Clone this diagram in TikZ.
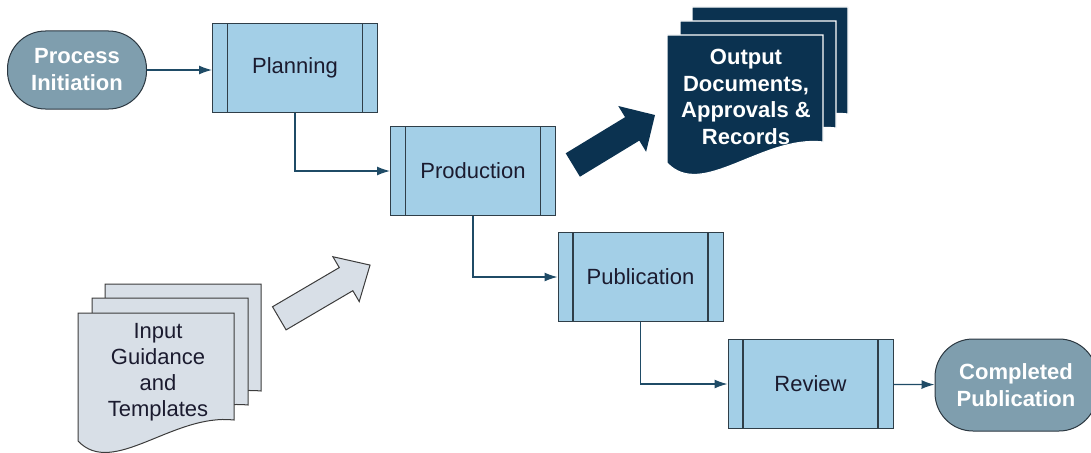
\documentclass[tikz,border=0pt]{standalone}
\usepackage{fontspec}
\setmainfont{Liberation Sans}
\usepackage{xcolor}
\usepackage{tikz}
\usetikzlibrary{arrows.meta}

\definecolor{boxfill}{HTML}{A3CFE7}
\definecolor{boxedge}{HTML}{2F3E48}
\definecolor{boxtext}{HTML}{1B1B2F}
\definecolor{termfill}{HTML}{7F9EAE}
\definecolor{termedge}{HTML}{2B3740}
\definecolor{navy}{HTML}{0B3250}
\definecolor{sheetgrey}{HTML}{D8DFE7}
\definecolor{sheetedge}{HTML}{3C3C3C}
\definecolor{linkblue}{HTML}{1F4B66}

\begin{document}
\begin{tikzpicture}[x=1pt,y=-1pt,>={Latex[length=13pt,width=9pt]},
every node/.style={font=\fontsize{22}{27}\selectfont,align=center},
procbox/.style={draw=boxedge,fill=boxfill,line width=1pt,minimum width=165pt,minimum height=89pt,text=boxtext,
path picture={\draw[boxedge,line width=1.2pt]
([xshift=15pt]path picture bounding box.north west)--([xshift=15pt]path picture bounding box.south west)
([xshift=-15pt]path picture bounding box.north east)--([xshift=-15pt]path picture bounding box.south east);}},
termbox/.style={draw=termedge,fill=termfill,line width=1pt,rounded corners=38pt,text=white,
font=\fontsize{22}{27}\selectfont\bfseries},
link/.style={->,draw=linkblue,line width=1.3pt},
docsheet/.pic={\path[pic actions](0,0)--(156,0)--(156,107)
.. controls (95,100) and (35,165) .. (0,128)--cycle;}]
\useasboundingbox(0,0)rectangle(1091,452);

\node[termbox,minimum width=139pt,minimum height=78pt](start)at(77,70){Process\\Initiation};
\node[procbox](plan)at(295,68){Planning};
\node[procbox](prod)at(473,171){Production};
\node[procbox](pub)at(640.5,277){Publication};
\node[procbox](rev)at(810.5,384){Review};
\node[termbox,minimum width=162pt,minimum height=92pt](done)at(1016,385){Completed\\Publication};

\draw[link](start.east)--(start.east-|plan.west);
\draw[link](plan.south)|-(prod.west);
\draw[link](prod.south)|-(pub.west);
\draw[link](pub.south)|-(rev.west);
\draw[link](rev)--(done);

\foreach \p in {(692,7),(680,21),(667,35)}
\pic[fill=navy,draw=white,line width=1.2pt]at\p{docsheet};
\node[text=white,font=\fontsize{22}{26.5}\selectfont\bfseries](outdocs)at(746,97)
{Output\\Documents,\\Approvals \&\\Records};

\foreach \p in {(105,284),(92,298),(78,313)}
\pic[fill=sheetgrey,draw=sheetedge,line width=1pt]at\p{docsheet};
\node[text=boxtext,font=\fontsize{22}{26}\selectfont](indocs)at(158,372)
{Input\\Guidance\\and\\Templates};

\begin{scope}[shift={(279.3,318.3)},rotate=30.4]
\draw[fill=sheetgrey,draw=sheetedge,line width=1pt](0,-13.4)--(77.4,-13.4)--(77.4,-26)
--(105.2,0)--(77.4,26)--(77.4,13.4)--(0,13.4)--cycle;
\end{scope}
\begin{scope}[shift={(572.8,165)},rotate=31.3]
\fill[navy](0,-13.7)--(69.5,-13.7)--(69.5,-26.8)--(96.2,0)--(69.5,26.8)--(69.5,13.7)
--(0,13.7)--cycle;
\end{scope}
\end{tikzpicture}
\end{document}
